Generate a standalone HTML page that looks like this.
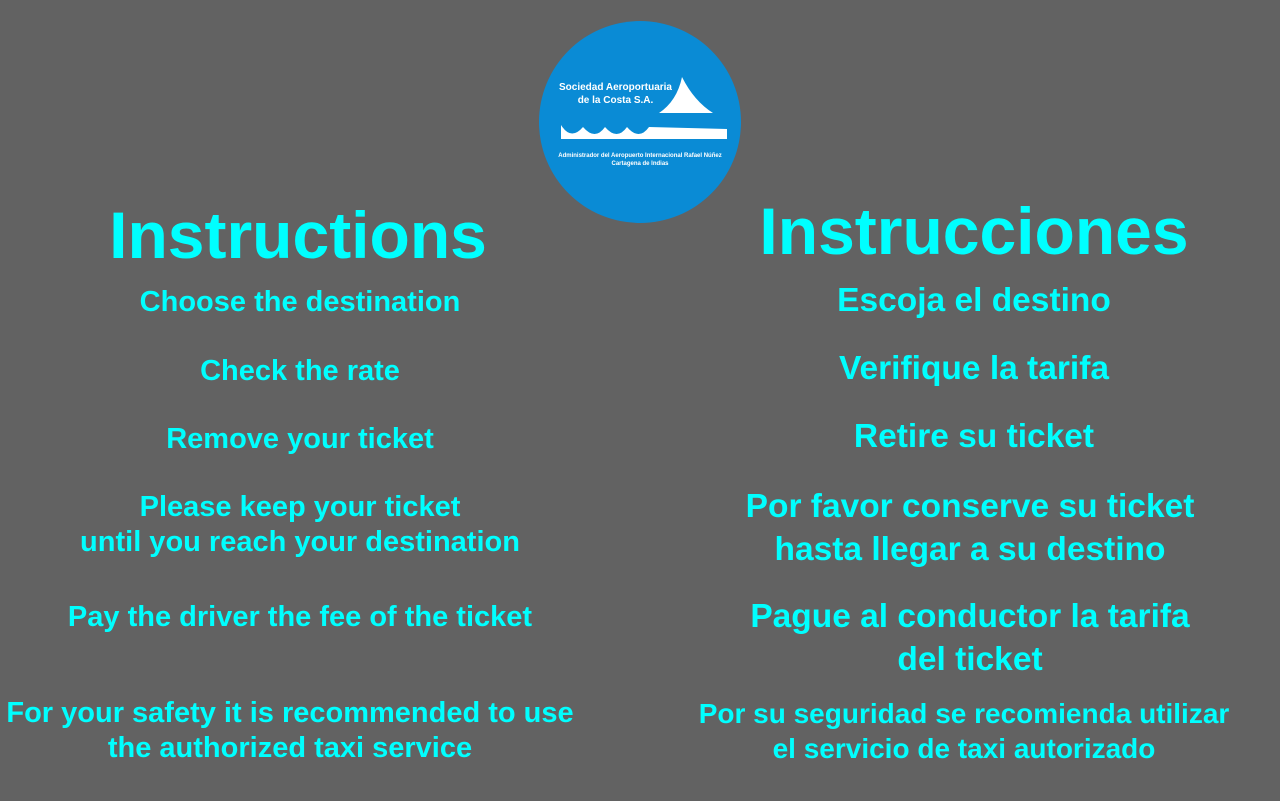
<!DOCTYPE html>
<html><head><meta charset="utf-8">
<style>
html,body{margin:0;padding:0}
body{width:1280px;height:801px;background:#626262;position:relative;overflow:hidden;font-family:"Liberation Sans",sans-serif;}
.t{position:absolute;color:#0ff;font-weight:bold;text-align:center;white-space:nowrap;transform:translateX(-50%);}
.logo{position:absolute;left:539px;top:21px;width:202px;height:202px;border-radius:50%;background:#0a8bd5;}
.lt{position:absolute;color:#fff;font-family:"Liberation Sans",sans-serif;}
</style></head>
<body>
<div class="logo">
  <div class="lt" style="left:20px;top:60px;font-size:10px;font-weight:bold;line-height:13px;text-align:center;">Sociedad Aeroportuaria<br>de la Costa S.A.</div>
  <svg width="202" height="202" style="position:absolute;left:0;top:0">
    <path d="M143,56 Q155,80 174,92 L120,92 Q138,80 143,56Z" fill="#fff"/>
    <path d="M22,104 Q32,120 44,106 Q56,120 66,106 Q78,120 88,106 Q100,120 110,106 L188,108 L188,118 L22,118Z" fill="#fff"/>
  </svg>
  <div class="lt" style="left:0;width:202px;top:131px;font-size:6px;font-weight:bold;line-height:8px;text-align:center;">Administrador del Aeropuerto Internacional Rafael Núñez<br>Cartagena de Indias</div>
</div>

<div class="t" style="left:298px;top:196px;font-size:66px;line-height:78px;">Instructions</div>
<div class="t" style="left:974px;top:192px;font-size:66px;line-height:78px;">Instrucciones</div>

<div class="t" style="left:300px;top:285px;font-size:29px;line-height:34px;">Choose the destination</div>
<div class="t" style="left:300px;top:354px;font-size:29px;line-height:34px;">Check the rate</div>
<div class="t" style="left:300px;top:422px;font-size:29px;line-height:34px;">Remove your ticket</div>
<div class="t" style="left:300px;top:490px;font-size:29px;line-height:35px;">Please keep your ticket<br>until you reach your destination</div>
<div class="t" style="left:300px;top:600px;font-size:29px;line-height:34px;">Pay the driver the fee of the ticket</div>
<div class="t" style="left:290px;top:696px;font-size:29px;line-height:35px;">For your safety it is recommended to use<br>the authorized taxi service</div>

<div class="t" style="left:974px;top:282px;font-size:33.5px;line-height:38px;">Escoja el destino</div>
<div class="t" style="left:974px;top:350px;font-size:33.5px;line-height:38px;">Verifique la tarifa</div>
<div class="t" style="left:974px;top:418px;font-size:33.5px;line-height:38px;">Retire su ticket</div>
<div class="t" style="left:970px;top:485px;font-size:33.5px;line-height:43px;">Por favor conserve su ticket<br>hasta llegar a su destino</div>
<div class="t" style="left:970px;top:595px;font-size:33.5px;line-height:43px;">Pague al conductor la tarifa<br>del ticket</div>
<div class="t" style="left:964px;top:696px;font-size:28px;line-height:35px;">Por su seguridad se recomienda utilizar<br>el servicio de taxi autorizado</div>
</body></html>
